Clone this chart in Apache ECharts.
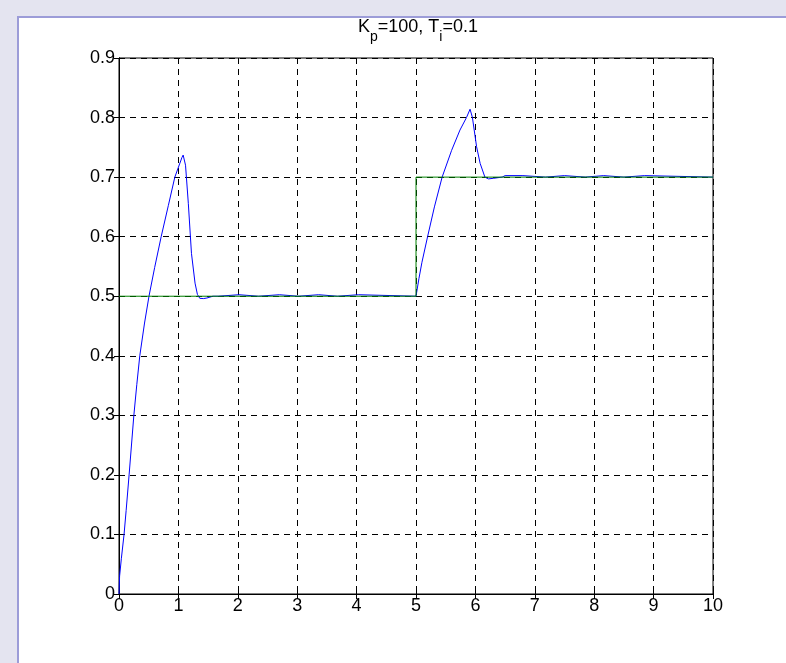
<!DOCTYPE html>
<html>
<head>
<meta charset="utf-8">
<script src="https://cdn.jsdelivr.net/npm/echarts@6/dist/echarts.min.js"></script>
<style>
html,body{margin:0;padding:0;width:786px;height:663px;overflow:hidden;background:#e4e4f0;}
#frame{position:absolute;left:17px;top:16px;width:769px;height:647px;background:#fff;border-left:2px solid #9c9cd8;border-top:2px solid #9c9cd8;box-sizing:border-box;}
#chart{position:absolute;left:0;top:0;width:786px;height:663px;}
</style>
</head>
<body>
<div id="frame"></div>
<div id="chart"></div>
<script>
// Blue: controlled output
const outT = [0, 0.01, 0.04, 0.085, 0.12, 0.17, 0.25, 0.30, 0.35, 0.43, 0.505, 0.6, 0.71, 0.83, 0.94, 1.02, 1.06, 1.08, 1.12, 1.167, 1.22, 1.28, 1.32, 1.36, 1.42, 1.48, 1.58, 1.67, 1.70, 2.02, 2.05, 2.35, 2.38, 2.70, 2.73, 3.02, 3.05, 3.36, 3.39, 3.68, 3.71, 4.03, 4.06, 5.0,
  5.05, 5.10, 5.195, 5.31, 5.44, 5.6, 5.74, 5.85, 5.91, 5.95, 6.02, 6.08, 6.16, 6.22, 6.3, 6.45, 6.5, 6.8, 6.83, 7.18, 7.21, 7.5, 7.53, 7.85, 7.88, 8.16, 8.19, 8.5, 8.53, 8.85, 8.88, 10];
const outY = [0, 0.03, 0.06, 0.10, 0.14, 0.20, 0.30, 0.352, 0.40, 0.455, 0.50, 0.548, 0.60, 0.652, 0.70, 0.722, 0.733, 0.737, 0.72, 0.656, 0.572, 0.522, 0.503, 0.4965, 0.496, 0.497, 0.5, 0.5, 0.5025, 0.5025, 0.5, 0.5, 0.5025, 0.5025, 0.5, 0.5, 0.5025, 0.5025, 0.5, 0.5, 0.5025, 0.5025, 0.5, 0.5,
  0.53, 0.557, 0.60, 0.65, 0.70, 0.745, 0.779, 0.80, 0.814, 0.80, 0.751, 0.723, 0.70, 0.697, 0.698, 0.7, 0.7025, 0.7025, 0.7, 0.7, 0.7025, 0.7025, 0.7, 0.7, 0.7025, 0.7025, 0.7, 0.7, 0.7025, 0.7025, 0.7, 0.7];
// Green: setpoint
const refT = [0, 5, 5, 10];
const refY = [0.5, 0.5, 0.7, 0.7];
const xTicks = [0,1,2,3,4,5,6,7,8,9,10];
const yTicks = [0,0.1,0.2,0.3,0.4,0.5,0.6,0.7,0.8,0.9];

const FONT = '"Liberation Sans", Arial, Helvetica, sans-serif';
const chart = echarts.init(document.getElementById('chart'), null, {renderer:'canvas'});
const dash = {color:'#000', width:1, type:[6,5]};
const baseX = {type:'value', min:0, max:10, interval:1};
const baseY = {type:'value', min:0, max:0.9, interval:0.1};
chart.setOption({
  backgroundColor:'transparent',
  animation:false,
  title:{
    text:'{a|K}{s|p}{a|=100, T}{s|i}{a|=0.1}',
    left:413, textAlign:'center', top:17,
    textStyle:{fontWeight:'normal', rich:{
      a:{fontFamily:FONT, fontSize:18, fontWeight:'normal', color:'#000', lineHeight:19, padding:[0,0,8,0]},
      s:{fontFamily:FONT, fontSize:14, fontWeight:'normal', color:'#000', lineHeight:15, padding:[12,0,0,0]}
    }}
  },
  grid:{left:119, top:58, right:73, bottom:69, show:true, borderColor:'#000', borderWidth:1, backgroundColor:'#fff'},
  xAxis:[
    Object.assign({}, baseX, {position:'bottom',
      axisLine:{show:true, lineStyle:{color:'#000', width:1}},
      axisTick:{show:true, inside:true, length:5, lineStyle:{color:'#000'}},
      axisLabel:{color:'#000', fontFamily:FONT, fontSize:18, margin:3, formatter:v=>String(v)},
      splitLine:{show:true, lineStyle:dash}}),
    Object.assign({}, baseX, {position:'top',
      axisLine:{show:true, lineStyle:{color:'#000', width:1}},
      axisTick:{show:true, inside:true, length:5, lineStyle:{color:'#000'}},
      axisLabel:{show:false}, splitLine:{show:false}})
  ],
  yAxis:[
    Object.assign({}, baseY, {position:'left',
      axisLine:{show:true, lineStyle:{color:'#000', width:1}},
      axisTick:{show:true, inside:true, length:5, lineStyle:{color:'#000'}},
      axisLabel:{color:'#000', fontFamily:FONT, fontSize:18, margin:4, formatter:v=>(Math.abs(v)<1e-9?'0':v.toFixed(1))},
      splitLine:{show:true, lineStyle:dash}}),
    Object.assign({}, baseY, {position:'right',
      axisLine:{show:true, lineStyle:{color:'#000', width:1}},
      axisTick:{show:true, inside:true, length:5, lineStyle:{color:'#000'}},
      axisLabel:{show:false}, splitLine:{show:false}})
  ],
  series:[
    {type:'line', xAxisIndex:0, yAxisIndex:0, showSymbol:false, symbol:'none', smooth:false,
      lineStyle:{color:'#0000ff', width:1}, data:outT.map((t,i)=>[t,outY[i]])},
    {type:'line', xAxisIndex:0, yAxisIndex:0, showSymbol:false, symbol:'none', smooth:false,
      lineStyle:{color:'#008000', width:1}, data:refT.map((t,i)=>[t,refY[i]])}
  ]
});
</script>
</body>
</html>
